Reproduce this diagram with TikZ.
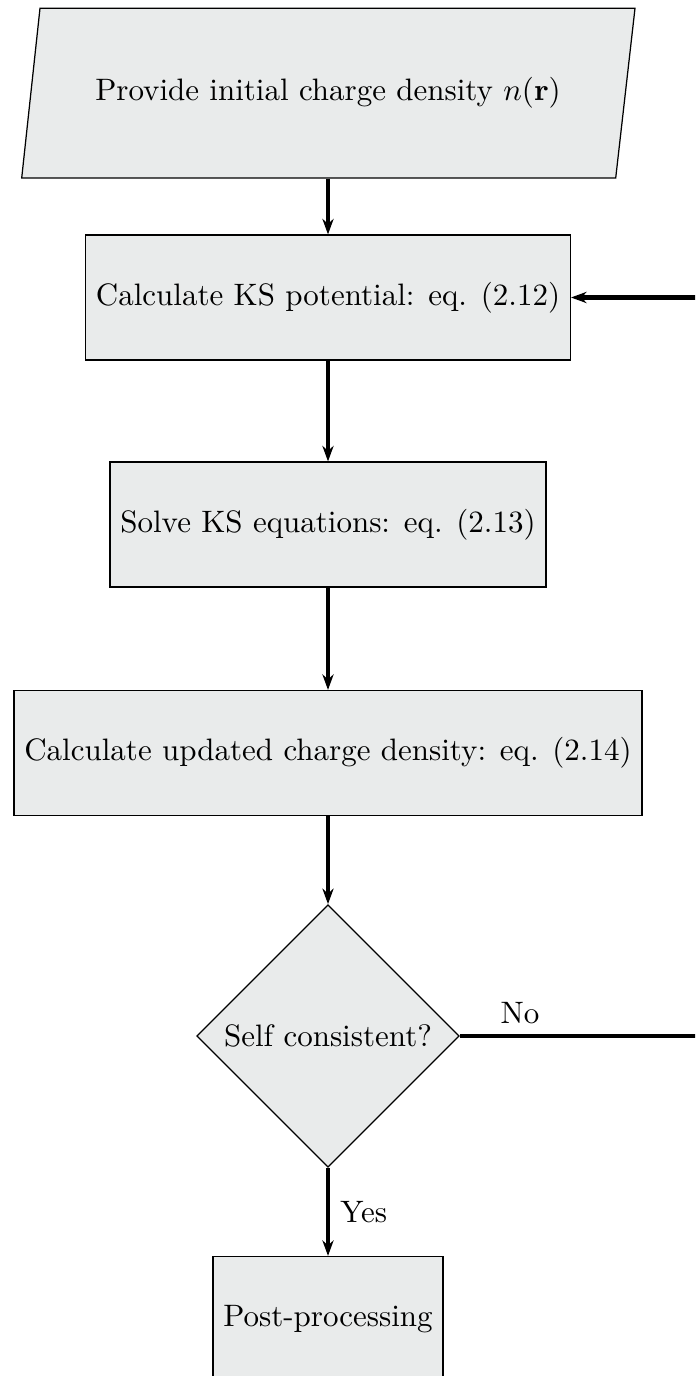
\documentclass[tikz,border=0pt]{standalone}
\usetikzlibrary{shapes.geometric,arrows.meta}
\definecolor{boxfill}{RGB}{233,235,235}
\begin{document}
\begin{tikzpicture}[x=0.3226pt,y=-0.3226pt,
  box/.style={draw=black, line width=0.4pt, fill=boxfill, minimum height=40.3pt, inner sep=3.33pt},
  decbox/.style={draw=black, line width=0.4pt, fill=boxfill, diamond, aspect=1, minimum width=84.7pt, minimum height=84.7pt, inner sep=0pt},
  arr/.style={line width=1.3pt, -{Stealth[length=5pt,width=3.6pt,inset=1.6pt]}},
  lbl/.style={inner sep=3.33pt}]
\useasboundingbox (0,0) rectangle (695,1376);
\clip (0,0) rectangle (695,1376);
\filldraw[draw=black,fill=boxfill,line width=0.4pt] (40,8.3) -- (635,8.3) -- (615.7,178) -- (21.7,178) -- cycle;
\node[minimum height=54.7pt] (start) at (328,93.2) {Provide initial charge density $n(\mathbf{r})$};
\node[box] (ks) at (328,297.5) {Calculate KS potential: eq. (2.12)};
\node[box] (solve) at (328,524.5) {Solve KS equations: eq. (2.13)};
\node[box] (upd) at (328,753) {Calculate updated charge density: eq. (2.14)};
\node[decbox] (dec) at (328,1036) {Self consistent?};
\node[box] (post) at (328,1319) {Post-processing};
\coordinate (loop) at (760,1036);
\draw[arr] (start.south) -- (ks.north);
\draw[arr] (ks.south) -- (solve.north);
\draw[arr] (solve.south) -- (upd.north);
\draw[arr] (upd.south) -- (dec.north);
\draw[arr] (dec.east) -- node[lbl,above,pos=0.2]{No} (loop) |- (ks.east);
\draw[arr] (dec.south) -- node[lbl,right]{Yes} (post.north);
\end{tikzpicture}
\end{document}
